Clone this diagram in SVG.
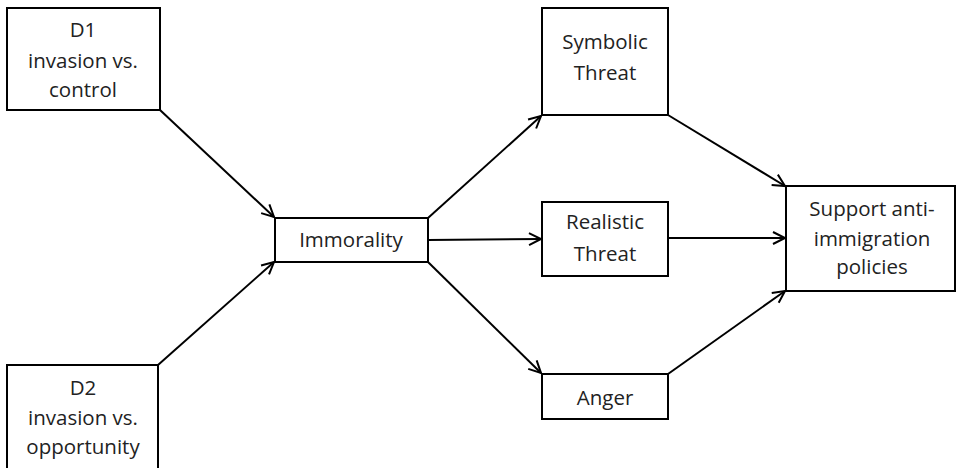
<svg xmlns="http://www.w3.org/2000/svg" width="959" height="468" viewBox="0 0 959 468">
<style>
.box{fill:#fff;stroke:#000;stroke-width:2}
.t{font-family:"Open Sans","Noto Sans",sans-serif;font-size:20.5px;fill:#222;text-anchor:middle}
.c{stroke:#000;stroke-width:2;fill:none;marker-end:url(#ah)}
</style>
<defs>
<marker id="ah" markerUnits="userSpaceOnUse" markerWidth="16" markerHeight="16" refX="13" refY="7" orient="auto" viewBox="0 0 16 14">
<path d="M1,1 L13,7 L1,13" fill="none" stroke="#000" stroke-width="2"/>
</marker>
</defs>
<g id="connectors">
<line class="c" x1="160" y1="110" x2="274" y2="217"/>
<line class="c" x1="158" y1="365" x2="274" y2="262"/>
<line class="c" x1="428" y1="218" x2="541" y2="116"/>
<line class="c" x1="428" y1="240" x2="541" y2="239"/>
<line class="c" x1="428" y1="262" x2="541" y2="373"/>
<line class="c" x1="668" y1="115" x2="785" y2="186"/>
<line class="c" x1="668" y1="238" x2="785" y2="238"/>
<line class="c" x1="668" y1="374" x2="785" y2="291"/>
</g>
<g id="d1"><rect class="box" x="7" y="8" width="153" height="102"/>
<text class="t" x="83" y="37">D1</text><text class="t" x="83" y="68">invasion vs.</text><text class="t" x="83" y="97">control</text></g>
<g id="d2"><rect class="box" x="7" y="365" width="151" height="110"/>
<text class="t" x="83" y="395">D2</text><text class="t" x="83" y="425">invasion vs.</text><text class="t" x="83" y="454">opportunity</text></g>
<g id="immorality"><rect class="box" x="275" y="218" width="153" height="44"/>
<text class="t" x="351" y="247">Immorality</text></g>
<g id="symbolic"><rect class="box" x="542" y="8" width="126" height="107"/>
<text class="t" x="605" y="49">Symbolic</text><text class="t" x="605" y="80">Threat</text></g>
<g id="realistic"><rect class="box" x="542" y="202" width="126" height="74"/>
<text class="t" x="605" y="229">Realistic</text><text class="t" x="605" y="261">Threat</text></g>
<g id="anger"><rect class="box" x="542" y="374" width="126" height="45"/>
<text class="t" x="605" y="405">Anger</text></g>
<g id="support"><rect class="box" x="786" y="186" width="169" height="105"/>
<text class="t" x="872" y="216">Support anti-</text><text class="t" x="872" y="246">immigration</text><text class="t" x="872" y="274">policies</text></g>
</svg>
